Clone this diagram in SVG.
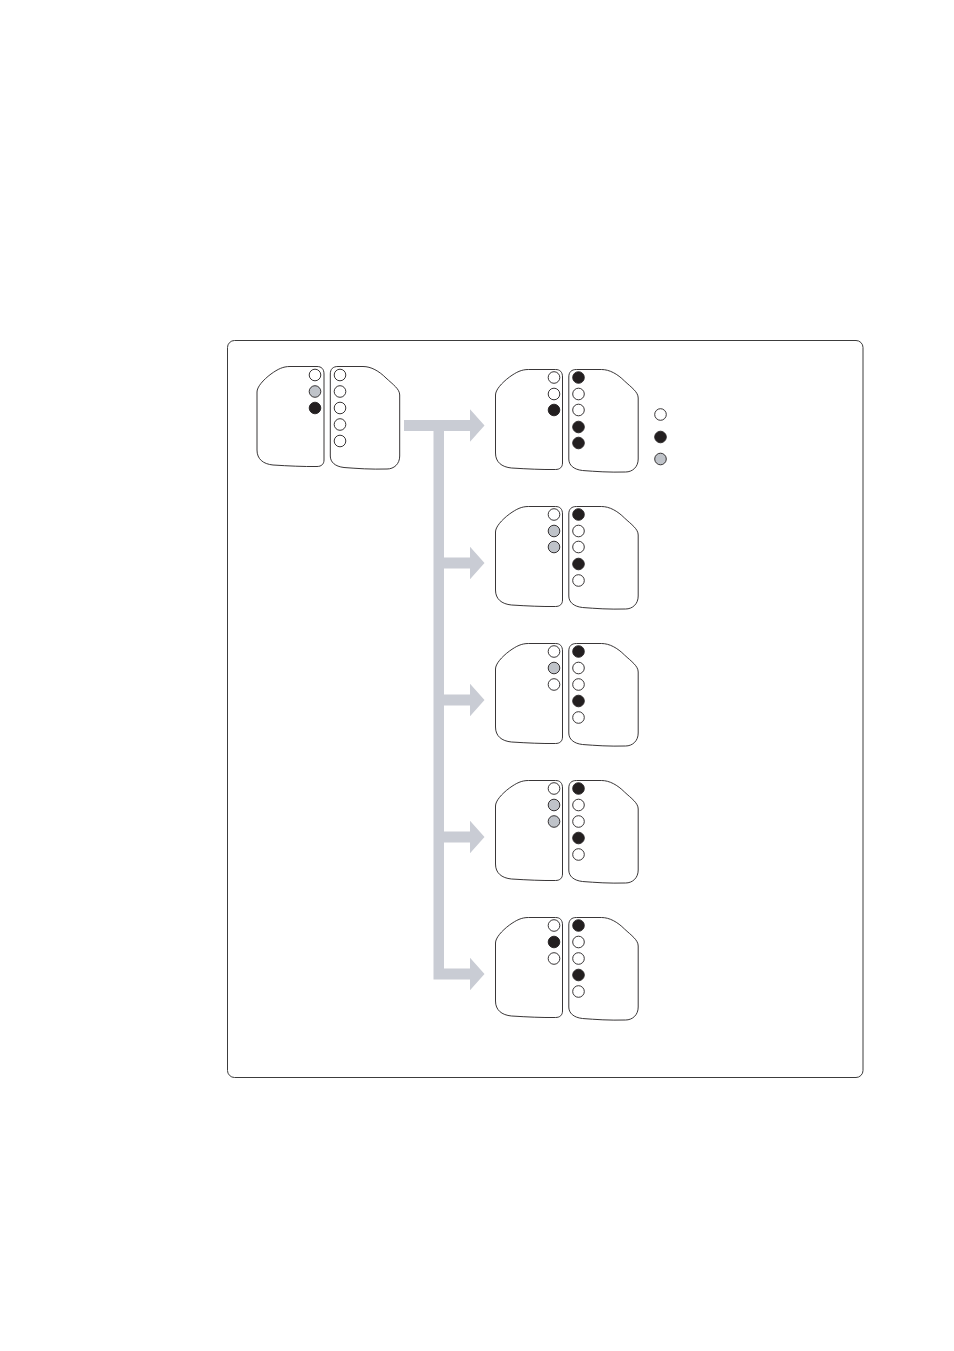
<svg xmlns="http://www.w3.org/2000/svg" width="954" height="1351" viewBox="0 0 954 1351">
<style>
.o{fill:none;stroke:#231f20;stroke-width:.9}
.w{fill:#fff;stroke:#231f20;stroke-width:.9}
.k{fill:#231f20;stroke:#231f20;stroke-width:.9}
.g{fill:#bfc3c9;stroke:#231f20;stroke-width:.9}
</style>
<defs>
<path id="lobeL" class="o" d="M0 26C0 21 6 14 14 8C21 3 26 0.500 33 0.500L60 0.500C64.500 0.500 67 3 67 8L67 94C67 98 64.500 100.500 60 100.500C46 100.700 32 100 16 99C6 98 0 93 0 84Z"/>
<path id="lobeR" class="o" d="M73.300 8C73.300 3 76 0.500 81 0.500L106 0.500C114 0.500 122 5 129 12C136 18.500 142.700 23 142.700 29L142.700 90C142.700 98 137 103 130 103C114 103.500 100 102.500 87 101.500C78 100.500 73.300 96 73.300 90Z"/>
<g id="shape"><use href="#lobeL"/><use href="#lobeR"/></g>
</defs>
<rect x="227.500" y="340.500" width="635.500" height="737" rx="7" fill="#fff" stroke="#3c3c3c" stroke-width="1"/>
<g id="connectors" fill="#c9ccd4">
<path d="M404 420H470V409.200L484.500 425.500L470 441.800V431H444V557.500H470V546.700L484.500 563L470 579.300V568.500H444V694.500H470V683.700L484.500 700L470 716.300V705.500H444V831.500H470V820.700L484.500 837L470 853.300V842.500H444V968.500H470V957.700L484.500 974L470 990.300V979.500H433.500V431H404Z"/>
</g>
<g id="node-source">
<use href="#shape" x="257" y="366"/>
<circle class="w" cx="315" cy="375" r="5.800"/><circle class="g" cx="315" cy="391.500" r="5.800"/><circle class="k" cx="315" cy="408" r="5.800"/>
<circle class="w" cx="340" cy="375" r="5.800"/><circle class="w" cx="340" cy="391.500" r="5.800"/><circle class="w" cx="340" cy="408" r="5.800"/><circle class="w" cx="340" cy="424.500" r="5.800"/><circle class="w" cx="340" cy="441" r="5.800"/>
</g>
<g id="node-1">
<use href="#shape" x="495.500" y="369"/>
<circle class="w" cx="554" cy="377.500" r="5.800"/><circle class="w" cx="554" cy="394" r="5.800"/><circle class="k" cx="554" cy="410" r="5.800"/>
<circle class="k" cx="578.500" cy="377.500" r="5.800"/><circle class="w" cx="578.500" cy="394" r="5.800"/><circle class="w" cx="578.500" cy="410" r="5.800"/><circle class="k" cx="578.500" cy="427" r="5.800"/><circle class="k" cx="578.500" cy="443" r="5.800"/>
</g>
<g id="node-2">
<use href="#shape" x="495.500" y="506"/>
<circle class="w" cx="554" cy="514.500" r="5.800"/><circle class="g" cx="554" cy="531" r="5.800"/><circle class="g" cx="554" cy="547" r="5.800"/>
<circle class="k" cx="578.500" cy="514.500" r="5.800"/><circle class="w" cx="578.500" cy="531" r="5.800"/><circle class="w" cx="578.500" cy="547" r="5.800"/><circle class="k" cx="578.500" cy="564" r="5.800"/><circle class="w" cx="578.500" cy="580.500" r="5.800"/>
</g>
<g id="node-3">
<use href="#shape" x="495.500" y="643"/>
<circle class="w" cx="554" cy="651.500" r="5.800"/><circle class="g" cx="554" cy="668" r="5.800"/><circle class="w" cx="554" cy="684.500" r="5.800"/>
<circle class="k" cx="578.500" cy="651.500" r="5.800"/><circle class="w" cx="578.500" cy="668" r="5.800"/><circle class="w" cx="578.500" cy="684.500" r="5.800"/><circle class="k" cx="578.500" cy="701" r="5.800"/><circle class="w" cx="578.500" cy="717.500" r="5.800"/>
</g>
<g id="node-4">
<use href="#shape" x="495.500" y="780"/>
<circle class="w" cx="554" cy="788.500" r="5.800"/><circle class="g" cx="554" cy="805" r="5.800"/><circle class="g" cx="554" cy="821.500" r="5.800"/>
<circle class="k" cx="578.500" cy="788.500" r="5.800"/><circle class="w" cx="578.500" cy="805" r="5.800"/><circle class="w" cx="578.500" cy="821.500" r="5.800"/><circle class="k" cx="578.500" cy="838" r="5.800"/><circle class="w" cx="578.500" cy="854.500" r="5.800"/>
</g>
<g id="node-5">
<use href="#shape" x="495.500" y="917"/>
<circle class="w" cx="554" cy="925.500" r="5.800"/><circle class="k" cx="554" cy="942" r="5.800"/><circle class="w" cx="554" cy="958.500" r="5.800"/>
<circle class="k" cx="578.500" cy="925.500" r="5.800"/><circle class="w" cx="578.500" cy="942" r="5.800"/><circle class="w" cx="578.500" cy="958.500" r="5.800"/><circle class="k" cx="578.500" cy="975" r="5.800"/><circle class="w" cx="578.500" cy="991.500" r="5.800"/>
</g>
<g id="legend">
<circle class="w" cx="660.500" cy="414.500" r="5.800"/><circle class="k" cx="660.500" cy="437" r="5.800"/><circle class="g" cx="660.500" cy="459" r="5.800"/>
</g>
</svg>
